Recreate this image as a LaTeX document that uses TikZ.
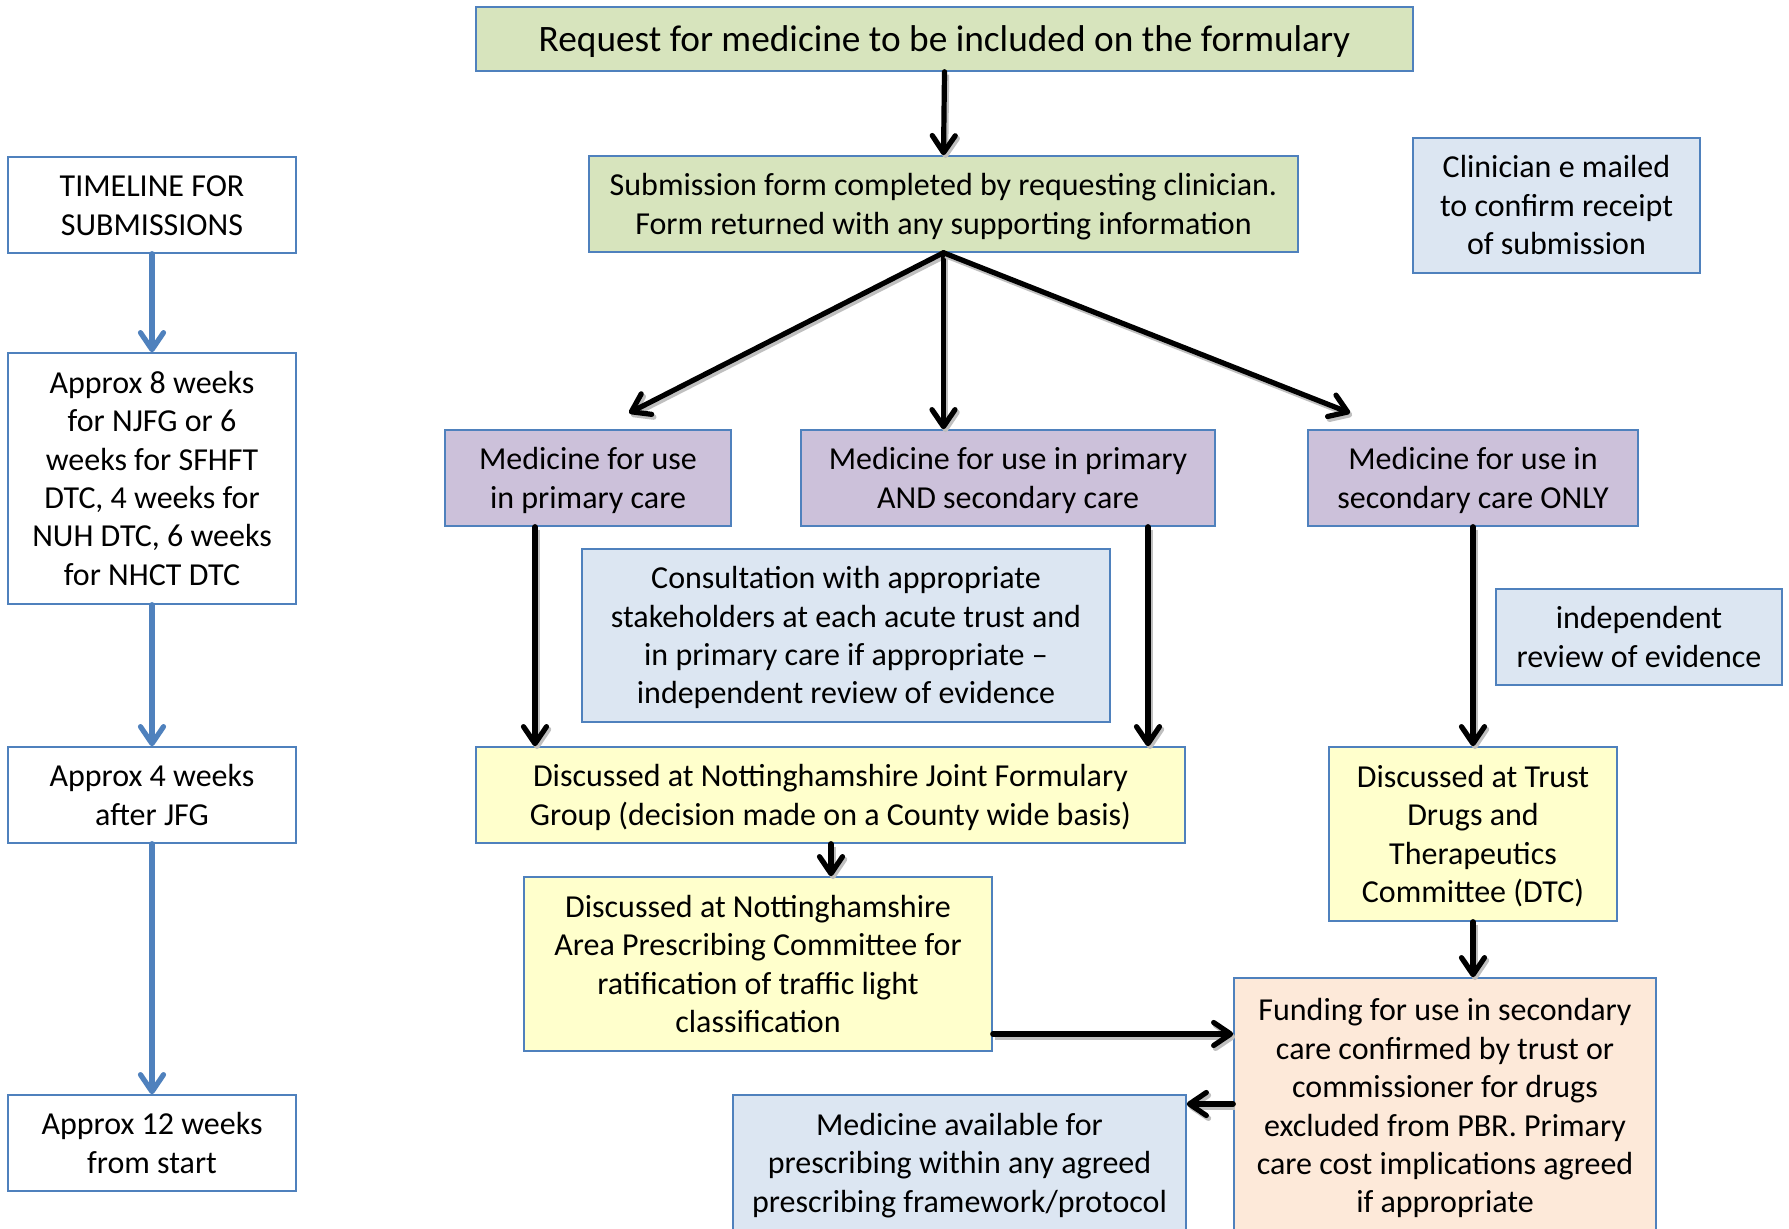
\documentclass[tikz,border=0pt]{standalone}
\usepackage{fontspec}
\setmainfont{Carlito}
\usetikzlibrary{arrows.meta}
\definecolor{bord}{HTML}{4F81BD}
\definecolor{cgreen}{HTML}{D7E4BD}
\definecolor{clav}{HTML}{CCC1DA}
\definecolor{cblue}{HTML}{DCE6F2}
\definecolor{cyel}{HTML}{FFFFCC}
\definecolor{cpeach}{HTML}{FDE9D9}
\begin{document}
\begin{tikzpicture}[x=0.5pt,y=-0.5pt,
  box/.style={draw=bord, line width=0.75pt, align=center, inner sep=0pt,
    font=\fontsize{16}{19.2}\selectfont, text depth=4.3pt},
  l1/.style={text height=15.2pt},
  l2/.style={text height=34.4pt},
  l3/.style={text height=53.6pt},
  l4/.style={text height=72.8pt},
  l6/.style={text height=111.2pt},
  wh/.style 2 args={minimum width=#1*0.5pt, minimum height=#2*0.5pt},
  shad/.style={preaction={draw=black!25, line width=2.7pt,
    transform canvas={shift={(1pt,-1.4pt)}}}},
  arr/.style={line width=2.6pt, black, line cap=round,
    -{Straight Barb[length=8.5pt,width=11.5pt,round]}, shad},
  barr/.style={line width=2.6pt, bord, line cap=round,
    -{Straight Barb[length=8.5pt,width=11.5pt,round]}}]
\useasboundingbox (0,0) rectangle (1789,1229);
\clip (0,0) rectangle (1789,1229);
\fill[white] (0,0) rectangle (1789,1229);

% main flow
\node[box, fill=cgreen, wh={937}{64}, font=\fontsize{18.66}{22.4}\selectfont,
  text height=17.8pt, text depth=5pt] (req) at (944.5,39)
  {Request for medicine to be included on the formulary};
\node[box, l2, fill=cgreen, wh={709}{96}] (sub) at (943.5,204)
  {Submission form completed by requesting clinician.\\ Form returned with any supporting information};
\node[box, l3, fill=cblue, wh={287}{135}] (clin) at (1556.5,205.5)
  {Clinician e mailed\\ to confirm receipt\\ of submission};

% timeline
\node[box, l2, fill=white, wh={288}{96}] (tl) at (152,205) {TIMELINE FOR\\ SUBMISSIONS};
\node[box, l6, fill=white, wh={288}{251}] (a8) at (152,478.5)
  {Approx 8 weeks\\ for NJFG or 6\\ weeks for SFHFT\\ DTC, 4 weeks for\\ NUH DTC, 6 weeks\\ for NHCT DTC};
\node[box, l2, fill=white, wh={288}{96}] (a4) at (152,795) {Approx 4 weeks\\ after JFG};
\node[box, l2, fill=white, wh={288}{96}] (a12) at (152,1143) {Approx 12 weeks\\ from start};

% medicine type
\node[box, l2, fill=clav, wh={286}{96}] (mp) at (588,478) {Medicine for use\\ in primary care};
\node[box, l2, fill=clav, wh={414}{96}] (mb) at (1008,478) {Medicine for use in primary\\ AND secondary care};
\node[box, l2, fill=clav, wh={330}{96}] (ms) at (1473,478) {Medicine for use in\\ secondary care ONLY};

\node[box, l4, fill=cblue, wh={528}{173}] (cons) at (846,635.5)
  {Consultation with appropriate\\ stakeholders at each acute trust and\\ in primary care if appropriate –\\ independent review of evidence};
\node[box, l2, fill=cblue, wh={286}{96}] (ir) at (1639,637) {independent\\ review of evidence};

\node[box, l2, fill=cyel, wh={709}{96}] (jfg) at (830.5,795)
  {Discussed at Nottinghamshire Joint Formulary\\ Group (decision made on a County wide basis)};
\node[box, l4, fill=cyel, wh={288}{174}] (dtc) at (1473,834)
  {Discussed at Trust\\ Drugs and\\ Therapeutics\\ Committee (DTC)};
\node[box, l4, fill=cyel, wh={468}{174}] (apc) at (758,964)
  {Discussed at Nottinghamshire\\ Area Prescribing Committee for\\ ratification of traffic light\\ classification};
\node[box, l6, fill=cpeach, wh={422}{256}] (fund) at (1445,1106)
  {Funding for use in secondary\\ care confirmed by trust or\\ commissioner for drugs\\ excluded from PBR. Primary\\ care cost implications agreed\\ if appropriate};
\node[box, l3, fill=cblue, wh={453}{136}] (avail) at (959.5,1163)
  {Medicine available for\\ prescribing within any agreed\\ prescribing framework/protocol};

% helper coordinates
\coordinate (tipL) at (629,413);
\coordinate (tipR) at (1350,413);
\coordinate (xL) at (535,0);
\coordinate (xM) at (1148,0);
\coordinate (xA) at (831,0);
\coordinate (yA) at (0,1034);
\coordinate (yB) at (0,1104);

% black arrows
\draw[arr] (req.south) -- (sub.north);
\draw[arr] (sub.south) -- (tipL);
\draw[arr] (sub.south) -- (mb.north -| sub.south);
\draw[arr] (sub.south) -- (tipR);
\draw[arr] (mp.south -| xL) -- (jfg.north -| xL);
\draw[arr] (mb.south -| xM) -- (jfg.north -| xM);
\draw[arr] (ms.south) -- (dtc.north);
\draw[arr] (jfg.south -| xA) -- (apc.north -| xA);
\draw[arr] (dtc.south) -- (fund.north -| dtc.south);
\draw[arr] (apc.east |- yA) -- (fund.west |- yA);
\draw[arr] (fund.west |- yB) -- (avail.east |- yB);

% timeline arrows
\draw[barr] (tl.south) -- (a8.north);
\draw[barr] (a8.south) -- (a4.north);
\draw[barr] (a4.south) -- (a12.north);
\end{tikzpicture}
\end{document}
